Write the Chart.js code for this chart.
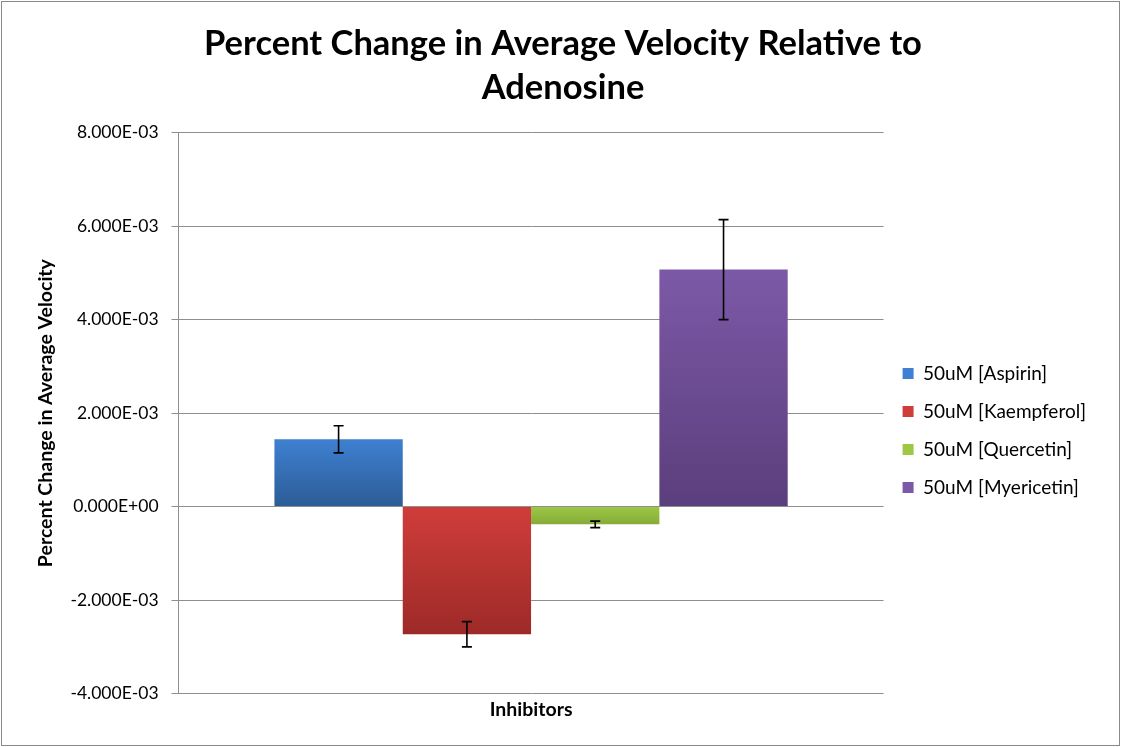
<!DOCTYPE html>
<html lang="en">
  <head>
    <meta charset="UTF-8" />
    <title>Percent Change in Average Velocity</title>
    <script src="https://cdn.jsdelivr.net/npm/chart.js@4.4.1/dist/chart.umd.min.js"></script>
    <style>
      html, body { margin: 0; padding: 0; background: #fff; }
      #wrap { width: 1121px; height: 747px; position: relative; }
    </style>
  </head>
  <body>
    <div id="wrap"><canvas id="chart"></canvas></div>
    <script>
      // series (one bar each, all in the same category group)
      const seriesNames = [
        "50uM [Aspirin]",
        "50uM [Kaempferol]",
        "50uM [Quercetin]",
        "50uM [Myericetin]",
      ];
      const seriesValues = [1.44e-3, -2.73e-3, -0.38e-3, 5.07e-3];
      const seriesErrors = [0.29e-3, 0.27e-3, 0.07e-3, 1.07e-3];
      const categories = [""];

      const topColors = ["#3e80d1", "#cf3d3a", "#9dc845", "#7c59a7"];
      const bottomColors = ["#2c5c96", "#9d2a28", "#86ab39", "#5b3e7c"];

      function sciLabel(v) {
        if (Math.abs(v) < 1e-12) return "0.000E+00";
        const s = v.toExponential(3).toUpperCase();
        const [m, e] = s.split("E");
        const sign = e[0] === "-" ? "-" : "+";
        const digits = e.replace(/[+-]/, "").padStart(2, "0");
        return m + "E" + sign + digits;
      }

      function barFill(i) {
        return (ctx) => {
          const chart = ctx.chart;
          const y = chart.scales.y;
          if (!chart.chartArea || !y) return topColors[i];
          const v = seriesValues[i];
          const y0 = y.getPixelForValue(Math.max(v, 0));
          const y1 = y.getPixelForValue(Math.min(v, 0));
          const g = chart.ctx.createLinearGradient(0, y0, 0, y1);
          g.addColorStop(0, topColors[i]);
          g.addColorStop(1, bottomColors[i]);
          return g;
        };
      }

      const errorBars = {
        id: "errorBars",
        afterDatasetsDraw(chart) {
          const c = chart.ctx;
          const y = chart.scales.y;
          c.save();
          c.strokeStyle = "#000";
          c.lineWidth = 1.6;
          chart.data.datasets.forEach((ds, i) => {
            const bar = chart.getDatasetMeta(i).data[0];
            const x = bar.x;
            const hi = y.getPixelForValue(seriesValues[i] + seriesErrors[i]);
            const lo = y.getPixelForValue(seriesValues[i] - seriesErrors[i]);
            c.beginPath();
            c.moveTo(x, hi);
            c.lineTo(x, lo);
            c.moveTo(x - 5, hi);
            c.lineTo(x + 5, hi);
            c.moveTo(x - 5, lo);
            c.lineTo(x + 5, lo);
            c.stroke();
          });
          c.restore();
        },
      };

      const frame = {
        id: "frame",
        afterDraw(chart) {
          const c = chart.ctx;
          c.save();
          c.strokeStyle = "#8a8a8a";
          c.lineWidth = 1;
          c.strokeRect(1.5, 1.5, chart.width - 3, chart.height - 3);
          c.restore();
        },
      };

      new Chart(document.getElementById("chart"), {
        type: "bar",
        data: {
          labels: categories,
          datasets: seriesNames.map((name, i) => ({
            label: name,
            data: [seriesValues[i]],
            backgroundColor: barFill(i),
            borderWidth: 0,
          })),
        },
        options: {
          responsive: true,
          maintainAspectRatio: false,
          animation: false,
          datasets: {
            bar: { categoryPercentage: 0.728, barPercentage: 1.0 },
          },
          layout: { padding: { left: 30, right: 25, top: 18, bottom: 26 } },
          plugins: {
            title: {
              display: true,
              text: ["Percent Change in Average Velocity Relative to", "Adenosine"],
              color: "#000",
              font: { family: "Lato", size: 34.5, weight: "bold", lineHeight: 1.27 },
              padding: { top: 4, bottom: 23 },
            },
            legend: {
              position: "right",
              title: {
                display: true,
                text: " ",
                font: { size: 10 },
                padding: { top: 110, bottom: 0 },
              },
              labels: {
                color: "#000",
                font: { family: "Lato", size: 19 },
                boxWidth: 11,
                boxHeight: 11,
                padding: 19,
                generateLabels: () =>
                  seriesNames.map((name, i) => ({
                    text: name,
                    fillStyle: topColors[i],
                    strokeStyle: topColors[i],
                    fontColor: "#000",
                    lineWidth: 0,
                    datasetIndex: i,
                  })),
              },
            },
            tooltip: { enabled: false },
          },
          scales: {
            x: {
              ticks: { display: false, padding: 0 },
              grid: { display: false, drawTicks: false },
              border: { display: false },
              title: {
                display: true,
                text: "Inhibitors",
                color: "#000",
                font: { family: "Lato", size: 19.5, weight: "bold" },
                padding: { top: 4, bottom: 0 },
              },
            },
            y: {
              min: -0.004,
              max: 0.008,
              ticks: {
                stepSize: 0.002,
                color: "#000",
                font: { family: "Lato", size: 17.5 },
                padding: 13,
                callback: (v) => sciLabel(v),
              },
              grid: { color: "#8e8e8e", lineWidth: 1, tickLength: 7 },
              border: { display: true, color: "#8e8e8e" },
              title: {
                display: true,
                text: "Percent Change in Average Velocity",
                color: "#000",
                font: { family: "Lato", size: 19.5, weight: "bold" },
                padding: { top: 4, bottom: 0 },
              },
            },
          },
        },
        plugins: [errorBars, frame],
      });
    </script>
  </body>
</html>
